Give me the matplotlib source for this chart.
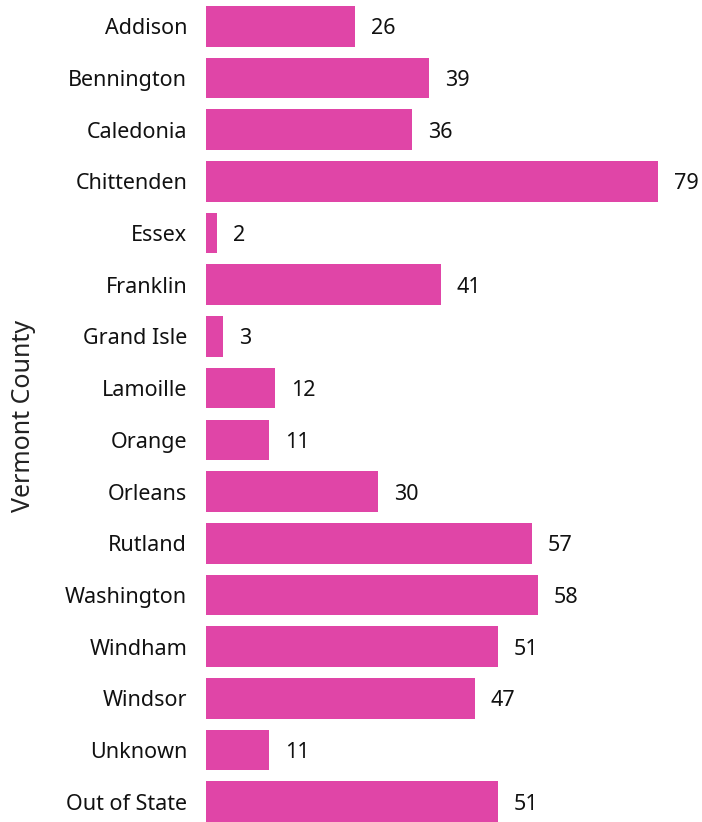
import matplotlib
matplotlib.use("Agg")
import matplotlib.pyplot as plt

counties = ["Addison", "Bennington", "Caledonia", "Chittenden", "Essex", "Franklin",
            "Grand Isle", "Lamoille", "Orange", "Orleans", "Rutland", "Washington",
            "Windham", "Windsor", "Unknown", "Out of State"]
counts = [26, 39, 36, 79, 2, 41, 3, 12, 11, 30, 57, 58, 51, 47, 11, 51]

plt.rcParams['font.family'] = ['Noto Sans', 'DejaVu Sans']
bar_color = "#E045A7"
txt = dict(fontsize=15.5, color="#111111")

fig = plt.figure(figsize=(7.02, 8.22), dpi=100)
# axes placed so bars span from x=206px to the right edge
ax = fig.add_axes([206 / 702, 0, 1 - 206 / 702, 1 - 6 / 822])

pos = list(range(len(counties)))
ax.barh(pos, counts, height=0.786, color=bar_color)
ax.set_ylim(len(counties) - 1 + 0.393, -0.393)
ax.set_xlim(0, 86.7)

for p, v in zip(pos, counts):
    ax.annotate(str(v), (v, p), xytext=(11.5, 0), textcoords="offset points",
                va="center_baseline", ha="left", **txt)

ax.set_yticks(pos)
ax.set_yticklabels(counties, **txt)
ax.tick_params(axis="y", length=0, pad=13.5)
ax.set_xticks([])
for s in ax.spines.values():
    s.set_visible(False)

fig.text(11 / 702, 0.494, "Vermont County", rotation=90, va="center", ha="left",
         fontsize=18, color="#222222")

fig.savefig("out.png", dpi=100)
